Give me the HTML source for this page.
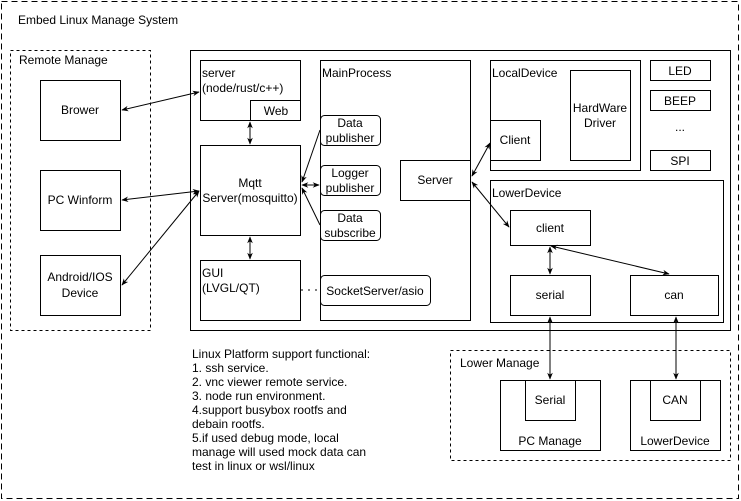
<!DOCTYPE html>
<html><head><meta charset="utf-8"><style>
html,body{margin:0;padding:0;background:#fff;}
svg{display:block;font-family:"Liberation Sans",Arial,sans-serif;font-size:12px;}
</style></head><body>
<svg width="741" height="501" viewBox="0 0 741 501" xmlns="http://www.w3.org/2000/svg">
<defs>
<marker id="a" viewBox="0 0 10 10" refX="9" refY="5" markerWidth="7" markerHeight="7" orient="auto-start-reverse"><path d="M0,1 L10,5 L0,9 L3,5 z" fill="#000"/></marker>
</defs>
<g fill="none" stroke="#000" stroke-width="1">
<rect x="1.5" y="1.5" width="737" height="497" stroke-dasharray="6,4"/>
<rect x="10.5" y="50.5" width="140" height="280" stroke-dasharray="3,3"/>
<rect x="40.5" y="80.5" width="80" height="60"/>
<rect x="40.5" y="170.5" width="80" height="60"/>
<rect x="40.5" y="255.5" width="80" height="60"/>
<rect x="190.5" y="50.5" width="540" height="280"/>
<rect x="200.5" y="60.5" width="100" height="60"/>
<rect x="250.5" y="100.5" width="50" height="20"/>
<rect x="200.5" y="145.5" width="100" height="90"/>
<rect x="200.5" y="260.5" width="100" height="60"/>
<rect x="320.5" y="60.5" width="150" height="260"/>
<rect x="320.5" y="115.5" width="60" height="30" rx="4"/>
<rect x="320.5" y="165.5" width="60" height="30" rx="4"/>
<rect x="320.5" y="210.5" width="60" height="30" rx="4"/>
<rect x="320.5" y="275.5" width="110" height="30" rx="4"/>
<rect x="400.5" y="160.5" width="70" height="40"/>
<rect x="490.5" y="60.5" width="150" height="110"/>
<rect x="490.5" y="120.5" width="50" height="40"/>
<rect x="570.5" y="70.5" width="60" height="90"/>
<rect x="650.5" y="60.5" width="60" height="20"/>
<rect x="650.5" y="90.5" width="60" height="20"/>
<rect x="650.5" y="150.5" width="60" height="20"/>
<rect x="490.5" y="180.5" width="233" height="142"/>
<rect x="510.5" y="210.5" width="80" height="35"/>
<rect x="510.5" y="275.5" width="80" height="40"/>
<rect x="630.5" y="275.5" width="88" height="40"/>
<rect x="450.5" y="350.5" width="280" height="110" stroke-dasharray="3,3"/>
<rect x="500.5" y="380.5" width="100" height="70"/>
<rect x="525.5" y="380.5" width="50" height="40"/>
<rect x="630.5" y="380.5" width="90" height="70"/>
<rect x="650.5" y="380.5" width="50" height="40"/>
</g>
<g stroke="#000" stroke-width="1" marker-start="url(#a)" marker-end="url(#a)" fill="none">
<line x1="122" y1="110" x2="199" y2="92"/>
<line x1="122" y1="200" x2="199" y2="191"/>
<line x1="122" y1="285" x2="199" y2="191"/>
<line x1="250" y1="122" x2="250" y2="144"/>
<line x1="250" y1="237" x2="250" y2="259"/>
<line x1="302" y1="185" x2="319" y2="185"/>
<line x1="472" y1="176" x2="490" y2="143"/>
<line x1="472" y1="182" x2="509" y2="227"/>
<line x1="550" y1="247" x2="550" y2="274"/>
<line x1="551" y1="246" x2="669" y2="274"/>
<line x1="550" y1="317" x2="550" y2="379"/>
<line x1="676" y1="317" x2="676" y2="379"/>
</g>
<g stroke="#000" stroke-width="1" fill="none">
<line x1="320" y1="130" x2="302" y2="182" marker-end="url(#a)"/>
<line x1="320" y1="225" x2="302" y2="188" marker-end="url(#a)"/>
<line x1="301" y1="290" x2="319" y2="290" stroke-dasharray="2,5"/>
</g>
<g fill="#000" text-anchor="middle">
<text x="80" y="114">Brower</text>
<text x="80" y="204">PC Winform</text>
<text x="80" y="281">Android/IOS</text>
<text x="80" y="297">Device</text>
<text x="276" y="115">Web</text>
<text x="250" y="187">Mqtt</text>
<text x="250" y="202">Server(mosquitto)</text>
<text x="350" y="127">Data</text>
<text x="350" y="142">publisher</text>
<text x="350" y="177">Logger</text>
<text x="350" y="192">publisher</text>
<text x="350" y="222">Data</text>
<text x="350" y="237">subscribe</text>
<text x="375" y="295">SocketServer/asio</text>
<text x="435" y="184">Server</text>
<text x="515" y="144">Client</text>
<text x="600" y="112">HardWare</text>
<text x="600" y="127">Driver</text>
<text x="680" y="75">LED</text>
<text x="680" y="105">BEEP</text>
<text x="680" y="131">...</text>
<text x="680" y="165">SPI</text>
<text x="550" y="232">client</text>
<text x="550" y="299">serial</text>
<text x="674" y="299">can</text>
<text x="550" y="404">Serial</text>
<text x="550" y="445">PC Manage</text>
<text x="675" y="404">CAN</text>
<text x="675" y="445">LowerDevice</text>
</g>
<g fill="#000">
<text x="18" y="24">Embed Linux  Manage System</text>
<text x="19" y="64">Remote  Manage</text>
<text x="202" y="77">server</text>
<text x="202" y="92">(node/rust/c++)</text>
<text x="202" y="277">GUI</text>
<text x="202" y="292">(LVGL/QT)</text>
<text x="322" y="77">MainProcess</text>
<text x="492" y="77">LocalDevice</text>
<text x="492" y="197">LowerDevice</text>
<text x="460" y="367">Lower Manage</text>
<text x="192" y="358">Linux Platform support functional:</text>
<text x="192" y="372">1. ssh service.</text>
<text x="192" y="386">2. vnc viewer remote service.</text>
<text x="192" y="400">3. node run environment.</text>
<text x="192" y="414">4.support busybox rootfs and</text>
<text x="192" y="428">debain rootfs.</text>
<text x="192" y="442">5.if used debug mode, local</text>
<text x="192" y="456">manage will used mock data can</text>
<text x="192" y="470">test in linux or wsl/linux</text>
</g>
</svg>
</body></html>
